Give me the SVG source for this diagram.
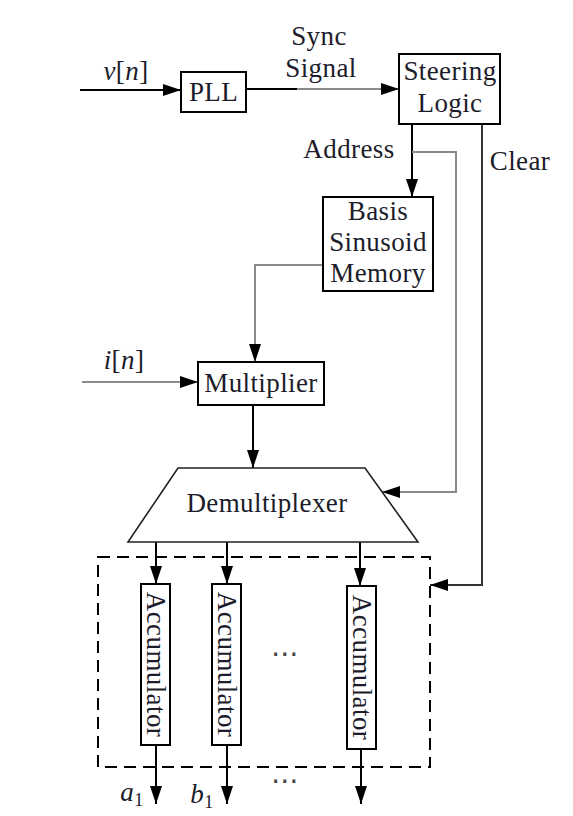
<svg xmlns="http://www.w3.org/2000/svg" width="573" height="816" viewBox="0 0 573 816">
<defs>
<marker id="ah" markerUnits="userSpaceOnUse" markerWidth="18" markerHeight="12" refX="18" refY="6" orient="auto"><path d="M0,0 L18,6 L0,12 z" fill="#000"/></marker>
<style>
.t{font-family:'Liberation Serif','DejaVu Serif',serif;font-size:27px;letter-spacing:0.4px;fill:#1c1c2a;text-anchor:middle}
.box{fill:#fff;stroke:#000;stroke-width:2}
.k{fill:none;stroke:#000;stroke-width:2}
.g{fill:none;stroke:#8a8a8a;stroke-width:2}
.d{fill:none;stroke:#333;stroke-width:2}
.it{font-style:italic}
</style>
</defs>
<rect width="573" height="816" fill="#fff"/>
<g id="connectors">
<path class="k" d="M80,90 H181" marker-end="url(#ah)"/>
<path class="k" d="M246,89 H297"/>
<path class="g" d="M297,89 H399" marker-end="url(#ah)"/>
<path class="k" d="M412,124 V197" marker-end="url(#ah)"/>
<path class="g" d="M412,152 H456 V492 H382" marker-end="url(#ah)"/>
<path class="d" d="M482,124 V585 H430" marker-end="url(#ah)"/>
<path class="g" d="M323,265 H255 V362" marker-end="url(#ah)"/>
<path class="g" d="M82,382 H198" marker-end="url(#ah)"/>
<path class="k" d="M253,405 V468" marker-end="url(#ah)"/>
<path class="k" d="M156,542 V584" marker-end="url(#ah)"/>
<path class="k" d="M227,542 V584" marker-end="url(#ah)"/>
<path class="k" d="M360,542 V586" marker-end="url(#ah)"/>
<path class="k" d="M156,745 V804" marker-end="url(#ah)"/>
<path class="k" d="M227,745 V804" marker-end="url(#ah)"/>
<path class="k" d="M361,749 V804" marker-end="url(#ah)"/>
</g>
<g id="labels">
<text class="t" x="126" y="80"><tspan class="it">v</tspan>[<tspan class="it">n</tspan>]</text>
<text class="t" x="319" y="45">Sync</text>
<text class="t" x="321" y="77">Signal</text>
<text class="t" x="349" y="158">Address</text>
<text class="t" x="520" y="170">Clear</text>
<text class="t" x="124" y="369"><tspan class="it">i</tspan>[<tspan class="it">n</tspan>]</text>
<text class="t" x="132" y="801" text-anchor="middle"><tspan class="it">a</tspan><tspan font-size="18" dy="5">1</tspan></text>
<text class="t" x="202" y="803"><tspan class="it">b</tspan><tspan font-size="18" dy="5">1</tspan></text>
<text x="285" y="790" style="font-family:'DejaVu Sans',sans-serif;font-size:28px;fill:#444;text-anchor:middle">⋯</text>
</g>
<g id="pll"><rect class="box" x="181" y="72" width="65" height="40"/><text class="t" x="213.5" y="101">PLL</text></g>
<g id="steering"><rect class="box" x="399" y="54" width="101" height="70"/><text class="t" x="450" y="80">Steering</text><text class="t" x="450" y="112">Logic</text></g>
<g id="basis"><rect class="box" x="323" y="197" width="110" height="94"/><text class="t" x="378" y="220">Basis</text><text class="t" x="378" y="251">Sinusoid</text><text class="t" x="378" y="282">Memory</text></g>
<g id="multiplier"><rect class="box" x="198" y="362" width="126" height="43"/><text class="t" x="261" y="392">Multiplier</text></g>
<g id="demux"><path d="M178,468 H365 L418,542 H128 Z" fill="#fff" stroke="#222" stroke-width="1.6"/><text class="t" x="267" y="512">Demultiplexer</text></g>
<g id="bank">
<rect x="98" y="557" width="332" height="210" fill="none" stroke="#000" stroke-width="2" stroke-dasharray="12,7"/>
<g id="acc1"><rect class="box" x="141" y="584" width="29" height="161"/><text class="t" transform="translate(155.5,664.5) rotate(90)" y="9">Accumulator</text></g>
<g id="acc2"><rect class="box" x="212" y="584" width="29" height="161"/><text class="t" transform="translate(226.5,664.5) rotate(90)" y="9">Accumulator</text></g>
<g id="acc3"><rect class="box" x="347" y="586" width="29" height="163"/><text class="t" transform="translate(361.5,667.5) rotate(90)" y="9">Accumulator</text></g>
<text x="285" y="663" style="font-family:'DejaVu Sans',sans-serif;font-size:28px;fill:#444;text-anchor:middle">⋯</text>
</g>
</svg>
